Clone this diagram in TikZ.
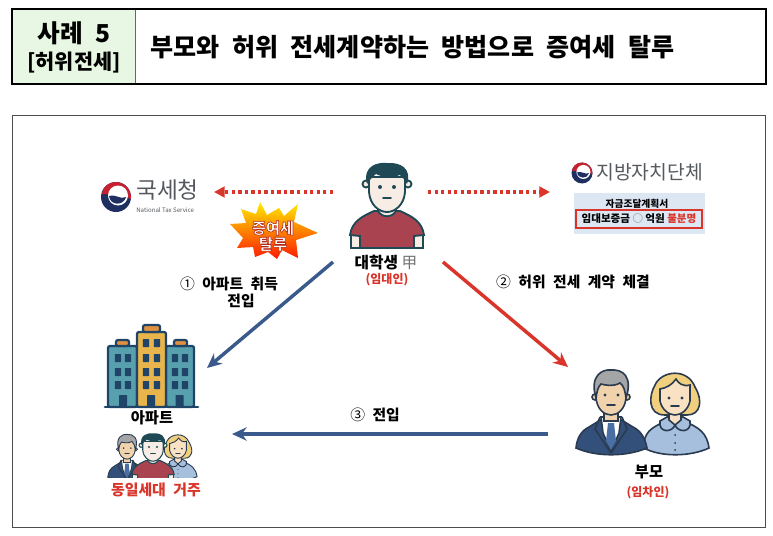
\documentclass[tikz,border=0pt]{standalone}
\usepackage{fontspec}
\usepackage{amsmath}
\usetikzlibrary{arrows.meta}
\setmainfont{Noto Sans CJK KR}
\newfontfamily\titlefont[WordSpace=2.2]{Noto Sans CJK KR}
\definecolor{caseGreen}{HTML}{E8F7E3}
\definecolor{redLine}{HTML}{D9352A}
\definecolor{blueLine}{HTML}{3B5A8C}
\definecolor{logoGray}{HTML}{55595E}
\definecolor{logoRed}{HTML}{C8202F}
\definecolor{logoNavy}{HTML}{1E2F60}
\definecolor{planBlue}{HTML}{DDE7F3}
\definecolor{teal}{HTML}{1F4A55}
\definecolor{shirtRed}{HTML}{A8434F}
\definecolor{skinPale}{HTML}{F7EDE4}
\definecolor{skinTan}{HTML}{F0D2AC}
\definecolor{skinLight}{HTML}{F9E2C4}
\definecolor{suitBlue}{HTML}{33507A}
\definecolor{tieBlue}{HTML}{4A6FA5}
\definecolor{dressBlue}{HTML}{A5BFDD}
\definecolor{hairGray}{HTML}{A3A5A6}
\definecolor{hairBlond}{HTML}{F0CF7E}
\definecolor{inkBlue}{HTML}{2A3B50}
\definecolor{wallTeal}{HTML}{58A0AE}
\definecolor{wallGold}{HTML}{E8B44C}
\definecolor{roofOrange}{HTML}{E0913F}
\definecolor{aptNavy}{HTML}{1F4468}
\tikzset{
  label/.style={inner sep=0pt,font=\fontsize{11.8}{13}\selectfont\bfseries},
  steplabel/.style={inner sep=0pt,font=\titlefont\fontsize{11.1}{13}\selectfont\bfseries},
  redlabel/.style={inner sep=0pt,text=redLine,font=\fontsize{9}{11}\selectfont\bfseries},
  bluearrow/.style={blueLine,line width=2.6pt,-{Stealth[length=11pt,width=10pt]}},
  redarrow/.style={redLine,line width=2.6pt,-{Stealth[length=11pt,width=10pt]}},
  dotarrow/.style={redLine,line width=3pt,dash pattern=on 2.5pt off 2.4pt,-{Triangle[length=8pt,width=8pt,sep=0pt]}},
  window/.style={fill=aptNavy,rounded corners=0.5pt},
  wall/.style={draw=aptNavy,line width=1.7pt,rounded corners=1.5pt}
}
\newcommand{\logofig}[3]{
  \begin{scope}[shift={(#1,#2)},scale=#3]
    \fill[logoNavy] (0,0) circle (15);
    \fill[logoRed] (15,2) .. controls (15.5,-8) and (8,-15) .. (0,-15) .. controls (-8,-15) and (-14,-9) .. (-14,-3) -- (0,-3) -- cycle;
    \fill[white] (2,-1.5) circle (10);
    \fill[logoNavy] (-7,-1) .. controls (-6,9) and (8,9) .. (10,0) .. controls (4,3) and (1,-3) .. (-7,-1) -- cycle;
  \end{scope}
}
\newcommand{\sonfig}[3]{
  \begin{scope}[shift={(#1,#2)},scale=#3,line width=1.4pt*#3,draw=teal]
    \filldraw[fill=skinPale] (-36,46) rectangle (-27,61) (36,46) rectangle (27,61);
    \filldraw[fill=shirtRed] (-37,48) .. controls (-35,34) and (-24,29) .. (-13,24) -- (13,24) .. controls (24,29) and (35,34) .. (37,48) -- (27,49) -- (27,61) -- (-27,61) -- (-27,49) -- cycle;
    \filldraw[fill=skinPale] (-9,14) -- (-9,24) .. controls (-5,31) and (5,31) .. (9,24) -- (9,14) -- cycle;
    \filldraw[fill=skinPale] (-21,-3) circle (3.5) (21,-3) circle (3.5);
    \filldraw[fill=skinPale] (-18,-10) -- (-18,5) .. controls (-17,18) and (-8,25) .. (0,25) .. controls (8,25) and (17,18) .. (18,5) -- (18,-10) -- cycle;
    \fill[teal] (-20,-3) .. controls (-25,-22) and (-8,-25) .. (0,-24) .. controls (14,-25) and (25,-18) .. (20,-3) .. controls (17,-7) and (16,-10) .. (13,-12) .. controls (5,-9) and (-6,-10) .. (-11,-13) .. controls (-15,-10) and (-17,-7) .. (-20,-3) -- cycle;
    \fill[teal] (-7,0) circle (2) (7,0) circle (2);
    \draw[line cap=round] (-4,11) -- (4,11);
  \end{scope}
}
\newcommand{\fatherfig}[3]{
  \begin{scope}[shift={(#1,#2)},scale=#3,line width=1.2pt*#3,draw=inkBlue]
    \filldraw[fill=suitBlue] (-35,55) .. controls (-34,45) and (-30,38) .. (-22,34) -- (-9,26) -- (9,26) -- (22,34) .. controls (30,38) and (34,45) .. (36,55) .. controls (15,64) and (-15,64) .. (-35,55) -- cycle;
    \filldraw[fill=white] (-10,24) -- (10,24) -- (8,40) -- (0,58) -- (-8,40) -- cycle;
    \fill[tieBlue] (-3,30) -- (3,30) -- (5,48) -- (0,57) -- (-5,48) -- cycle;
    \draw (-11,24) -- (-16,36) -- (0,60) (11,24) -- (16,36) -- (0,60);
    \filldraw[fill=skinTan] (-7,14) rectangle (7,28);
    \filldraw[fill=skinTan] (-16,4) circle (3) (16,4) circle (3);
    \filldraw[fill=skinTan] (-15,-10) -- (-15,5) .. controls (-14,16) and (-7,22) .. (0,22) .. controls (7,22) and (14,16) .. (15,5) -- (15,-10) -- cycle;
    \filldraw[fill=hairGray] (-15,5) .. controls (-22,-18) and (-8,-24) .. (0,-23) .. controls (12,-24) and (22,-16) .. (15,5) .. controls (14,-2) and (13,-7) .. (9,-10) .. controls (2,-6) and (-6,-8) .. (-10,-9) .. controls (-13,-6) and (-14,-2) .. (-15,5) -- cycle;
    \fill[inkBlue] (-6,2) circle (1.6) (7,2) circle (1.6);
    \draw[line cap=round] (-4,12) -- (4,12);
  \end{scope}
}
\newcommand{\motherfig}[3]{
  \begin{scope}[shift={(#1,#2)},scale=#3,line width=1.2pt*#3,draw=inkBlue]
    \filldraw[fill=hairBlond] (-10,20) .. controls (-28,20) and (-26,0) .. (-20,-10) .. controls (-14,-24) and (12,-28) .. (20,-8) .. controls (28,5) and (26,20) .. (12,20) -- cycle;
    \filldraw[fill=dressBlue] (-31,53) .. controls (-32,38) and (-24,32) .. (-8,26) -- (8,26) .. controls (24,32) and (32,38) .. (34,53) .. controls (15,62) and (-15,62) .. (-31,53) -- cycle;
    \filldraw[fill=dressBlue] (-15,26) .. controls (-17,38) and (-3,38) .. (0,30) .. controls (3,38) and (17,38) .. (15,26) -- (8,22) -- (-8,22) -- cycle;
    \filldraw[fill=skinLight] (-6,14) -- (-6,25) -- (0,30) -- (6,25) -- (6,14) -- cycle;
    \filldraw[fill=skinLight] (-15,-6) -- (-15,6) .. controls (-13,15) and (-6,20) .. (0,20) .. controls (6,20) and (13,15) .. (15,6) -- (15,-10) .. controls (8,-8) and (3,-12) .. (1,-16) .. controls (-3,-10) and (-9,-7) .. (-15,-6) -- cycle;
    \fill[inkBlue] (-6,3) circle (1.6) (7,3) circle (1.6) (0,40) circle (1) (0,48) circle (1) (0,55) circle (1);
    \draw[line cap=round] (-4,11) -- (4,11);
  \end{scope}
}
\begin{document}
\begin{tikzpicture}[x=0.75pt,y=-0.75pt]
  \useasboundingbox (0,0) rectangle (773,535);
  \draw[fill=caseGreen,draw=none] (12,9) rectangle (135,84);
  \draw[draw=black!60,line width=0.6pt] (135,9) -- (135,84);
  \draw[line width=1.5pt] (12,9) rectangle (766,84);
  \node[inner sep=0pt,font=\titlefont\fontsize{18.5}{20}\selectfont\bfseries] (casename) at (74,33) {사례 5};
  \node[inner sep=0pt,font=\fontsize{15.6}{17}\selectfont\bfseries] (casetype) at (74,63) {[허위전세]};
  \node[inner sep=0pt,anchor=west,font=\titlefont\fontsize{18.8}{21}\selectfont\bfseries] (casetitle) at (150,47) {부모와 허위 전세계약하는 방법으로 증여세 탈루};
  \draw[draw=black!70,line width=0.6pt] (12,115) rectangle (765,527);

  \logofig{116}{197}{1}
  \node[inner sep=0pt,anchor=west,text=logoGray,font=\fontsize{17}{19}\selectfont] (ntsname) at (136,190) {국세청};
  \node[inner sep=0pt,anchor=west,text=logoGray,font=\fontsize{4.6}{5}\selectfont] (ntsen) at (136,210) {National Tax Service};

  \logofig{582}{173}{0.7}
  \node[inner sep=0pt,anchor=west,text=logoGray,font=\fontsize{14.5}{16}\selectfont] (localgov) at (596,172) {지방자치단체};
  \fill[planBlue] (574,193) rectangle (705,234);
  \node[inner sep=0pt,font=\fontsize{7.3}{9}\selectfont\bfseries] (plantitle) at (637,204) {자금조달계획서};
  \draw[redLine,line width=1.3pt] (576,210) rectangle (702,228);
  \node[inner sep=0pt,font=\fontsize{7.9}{9}\selectfont\bfseries] (planrow) at (639,219) {임대보증금 {\color{black!45}○} 억원 \textcolor{redLine}{불분명}};

  \sonfig{387}{187}{1}
  \node[label] (student) at (386,263) {대학생 \textcolor{black!55}{\mdseries 甲}};
  \node[redlabel] (studentrole) at (387,280) {(임대인)};

  \shade[top color=yellow!85!orange,bottom color=red!80!orange,draw=none] (260,202) -- (267,215) -- (279,208) -- (284,216) -- (298,204) -- (294,222) -- (318,233) -- (296,240) -- (298,258) -- (282,250) -- (277,259) -- (268,252) -- (255,257) -- (253,247) -- (237,248) -- (243,238) -- (230,224) -- (246,223) -- (241,209) -- (256,214) -- cycle;
  \node[inner sep=0pt,align=center,text=white,font=\fontsize{11.5}{12}\selectfont\bfseries] (burst) at (273,236) {\special{pdf:code 2 Tr 0.45 w 0.69 0.16 0.1 RG}증여세\\탈루\special{pdf:code 0 Tr}};

  \coordinate (ntsend) at (214,192);
  \coordinate (ntsstart) at (333,192);
  \coordinate (govstart) at (428,192);
  \coordinate (govend) at (550,192);
  \coordinate (buystart) at (333,262);
  \coordinate (buyend) at (207,368);
  \coordinate (leasestart) at (443,262);
  \coordinate (leaseend) at (568,367);
  \coordinate (movestart) at (548,434);
  \coordinate (moveend) at (232,434);
  \draw[dotarrow] (ntsstart) -- (ntsend);
  \draw[dotarrow] (govstart) -- (govend);
  \draw[bluearrow] (buystart) -- (buyend);
  \draw[redarrow] (leasestart) -- (leaseend);
  \draw[bluearrow] (movestart) -- (moveend);

  \node[steplabel] (buylabel) at (229,284) {{\mdseries ①} 아파트 취득};
  \node[steplabel] (buylabelb) at (241,301) {전입};
  \node[steplabel] (leaselabel) at (573,282) {{\mdseries ②} 허위 전세 계약 체결};
  \node[steplabel] (movelabel) at (375,415) {{\mdseries ③} 전입};

  \draw[wall,fill=wallTeal] (108,407) -- (108,346) -- (137,346) -- (137,407) -- cycle;
  \draw[wall,fill=wallTeal] (166,407) -- (166,346) -- (194,346) -- (194,407) -- cycle;
  \draw[wall,fill=wallGold] (137,407) -- (137,332) -- (166,332) -- (166,407) -- cycle;
  \draw[wall,fill=roofOrange] (116,346) rectangle (129,340);
  \draw[wall,fill=roofOrange] (174,346) rectangle (187,340);
  \draw[wall,fill=roofOrange] (143,332) rectangle (160,325);
  \foreach \wy in {358,372,385} {
    \foreach \wx in {118,128,175,185,146,157} {
      \fill[window] (\wx-3.2,\wy-4) rectangle (\wx+3.2,\wy+4);
    }
  }
  \fill[window] (142.8,339) rectangle (149.2,347);
  \fill[window] (153.8,339) rectangle (160.2,347);
  \foreach \dx in {123,151,179.5} {
    \fill[window] (\dx-4,395) rectangle (\dx+4,407);
  }
  \draw[aptNavy,line width=2.2pt,line cap=round] (105,407) -- (198,407);
  \node[label,font=\fontsize{11.5}{13}\selectfont\bfseries] (apartment) at (152,418) {아파트};

  \begin{scope}
    \clip (100,425) rectangle (205,477);
    \fatherfig{127}{447}{0.55}
    \motherfig{178}{447}{0.56}
    \sonfig{153}{447}{0.57}
  \end{scope}
  \node[inner sep=0pt,text=redLine,font=\titlefont\fontsize{11.2}{13}\selectfont\bfseries] (household) at (156,490) {동일세대 거주};

  \motherfig{675}{395}{1}
  \fatherfig{611}{393}{1}
  \node[label,font=\fontsize{11.5}{13}\selectfont\bfseries] (parents) at (649,472) {부모};
  \node[redlabel] (parentsrole) at (648,493) {(임차인)};
\end{tikzpicture}
\end{document}
